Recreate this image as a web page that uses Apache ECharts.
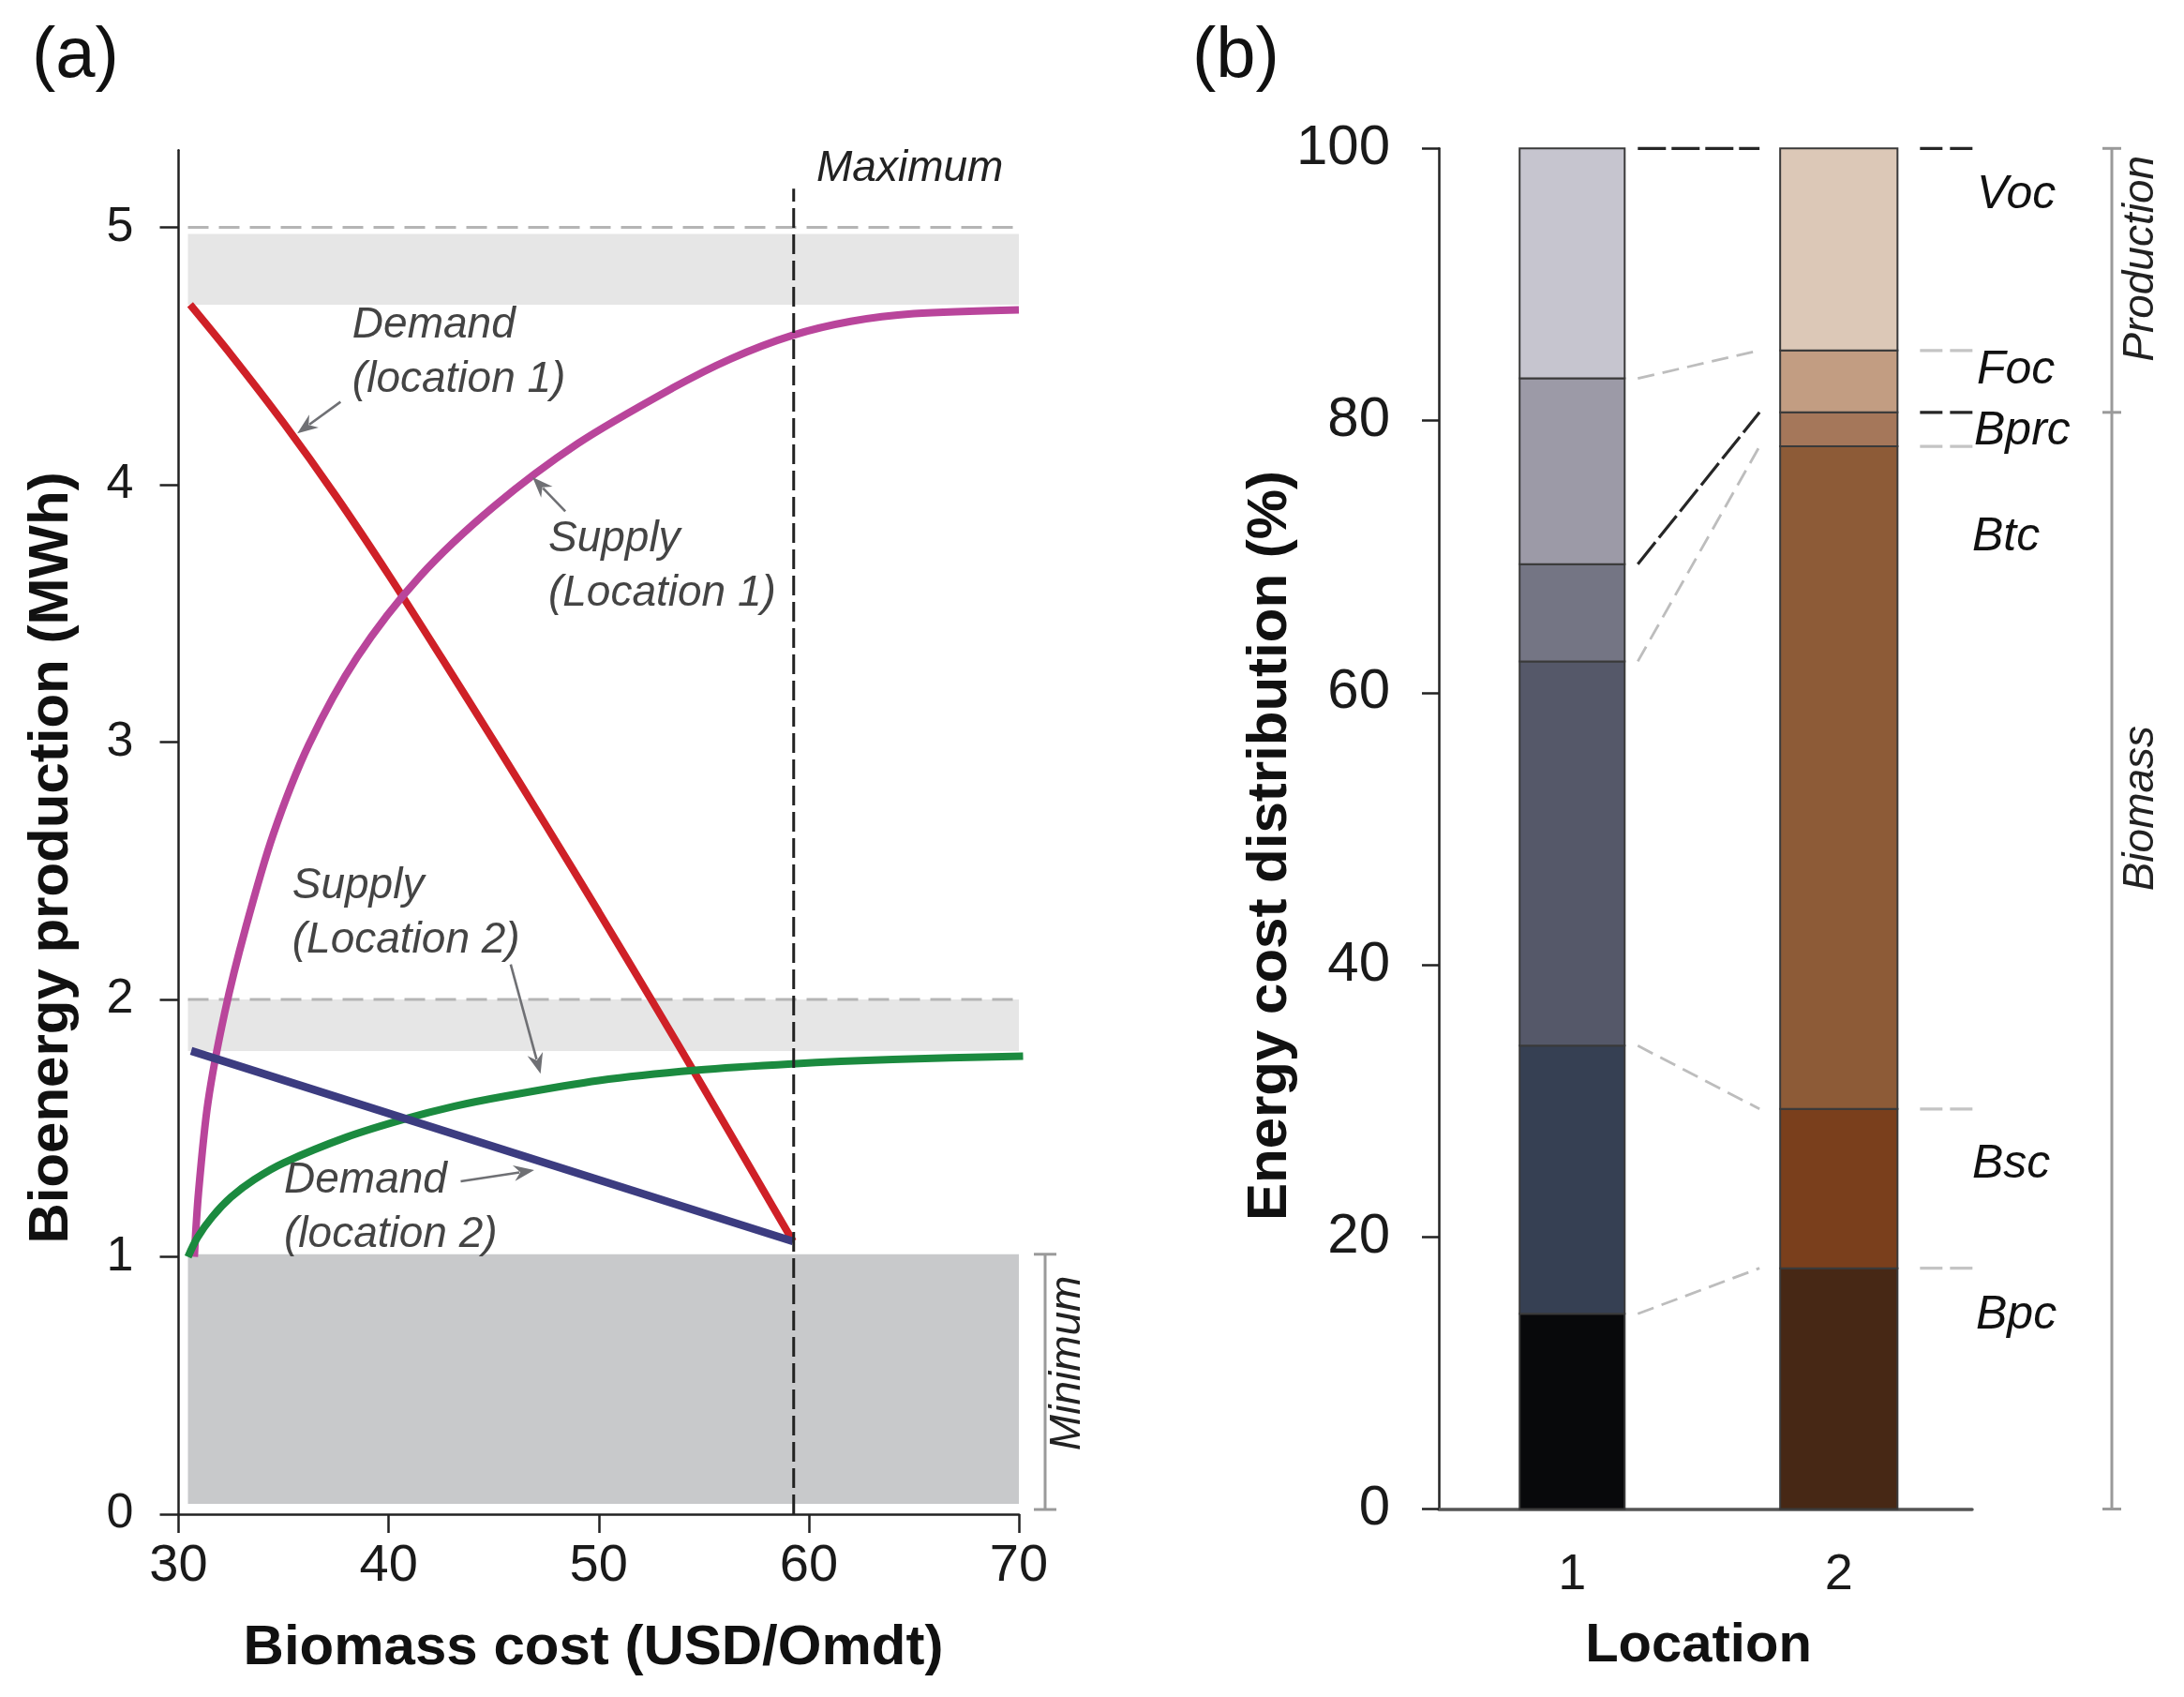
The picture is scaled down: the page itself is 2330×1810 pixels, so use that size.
<!DOCTYPE html>
<html><head><meta charset="utf-8">
<script src="https://cdn.jsdelivr.net/npm/echarts@6/dist/echarts.min.js"></script>
<style>html,body{margin:0;padding:0;background:#fff}#c{width:2330px;height:1810px}</style>
</head><body><div id="c"></div>
<script>
// ---------- DATA : panel (a) ----------
const xTicksA = [30, 40, 50, 60, 70];
const yTicksA = [0, 1, 2, 3, 4, 5];
const demandLoc1 = [[30.55,4.70],[32.5,4.505],[35,4.24],[37.5,3.955],[40,3.65],[42.5,3.33],[45,3.005],[47.5,2.675],[50,2.34],[52.5,2.0],[55,1.655],[57.5,1.305],[59.25,1.06]];
const supplyLoc1 = [[30.75,1.0],[30.95,1.25],[31.4,1.6],[32.2,1.95],[33.2,2.28],[34.5,2.64],[36.2,2.99],[38.5,3.33],[41.5,3.645],[45,3.915],[49,4.16],[53.5,4.375],[56.3,4.49],[59.2,4.58],[62,4.635],[65,4.665],[70,4.68]];
const supplyLoc2 = [[30.45,1.0],[30.9,1.075],[31.6,1.155],[32.5,1.232],[33.6,1.30],[35.0,1.365],[38.0,1.465],[40.75,1.535],[43.14,1.585],[45.4,1.622],[50,1.685],[54.6,1.725],[59.2,1.75],[64,1.767],[70.2,1.78]];
const demandLoc2 = [[30.6,1.80],[59.25,1.06]];
const capacityBands = [[4.70, 4.975], [1.80, 2.0]];
const capacityRefs = [5, 2];
const minimumBox = [0.04, 1.01];
const maxCost = 59.28;

// ---------- DATA : panel (b) ----------
const locations = ['1', '2'];
const segments = ['Bpc', 'Bsc', 'Btc', 'Bprc', 'Foc', 'Voc'];
const loc1Share = [14.35, 19.7, 28.25, 7.15, 13.65, 16.9];
const loc2Share = [17.7, 11.7, 48.7, 2.5, 4.55, 14.85];
const yTicksB = [0, 20, 40, 60, 80, 100];

// ---------- STYLE ----------
const FONT = '"Liberation Sans", Arial, Helvetica, sans-serif';
const loc1Colors = ['#08090b','#364053','#555869','#747584','#9c9aa7','#c6c5cf'];
const loc2Colors = ['#472815','#7a3f1c','#8d5b37','#a5775a','#c29d82','#dcc8b7'];
const linkDark = [false, false, false, true, false, true];
const BAR_W = [0.394, 0.44];
const VLINE_TOP = 5.15;

function cum(arr){ let a=0; return arr.map(v => (a += v)); }
const top1 = cum(loc1Share), top2 = cum(loc2Share);
function stackRows(shares, cat){ let acc=0; return shares.map((v,i)=>{const r=[cat, acc, acc+v, i]; acc+=v; return r;}); }

const chart = echarts.init(document.getElementById('c'), null, {renderer:'canvas'});

const axisTxt = {color:'#1a1a1a', fontFamily: FONT};
const option = {
  animation:false,
  backgroundColor:'#fff',
  textStyle:{fontFamily: FONT},
  grid:[
    {left:190.5, right:1243, top:160.2, bottom:195},
    {left:1535, right:226, top:158.3, bottom:200.5}
  ],
  xAxis:[
    {gridIndex:0, type:'value', min:xTicksA[0], max:xTicksA[xTicksA.length-1], interval:10,
      axisLine:{onZero:false, lineStyle:{color:'#222', width:2.5}},
      axisTick:{length:20, lineStyle:{color:'#222', width:2.5}},
      axisLabel:Object.assign({fontSize:56, margin:28}, axisTxt),
      splitLine:{show:false}},
    {gridIndex:1, type:'category', data:locations, boundaryGap:true,
      axisLine:{lineStyle:{color:'#555', width:3.5}},
      axisTick:{length:20, lineStyle:{color:'#222', width:2.5}},
      axisLabel:Object.assign({fontSize:54, margin:44}, axisTxt),
      splitLine:{show:false}}
  ],
  yAxis:[
    {gridIndex:0, type:'value', min:0, max:5.3, interval:1,
      axisLine:{show:true, onZero:false, lineStyle:{color:'#222', width:2.5}},
      axisTick:{show:true, length:20, customValues:yTicksA, lineStyle:{color:'#222', width:2.5}},
      axisLabel:Object.assign({fontSize:52, margin:48, customValues:yTicksA}, axisTxt),
      splitLine:{show:false}},
    {gridIndex:1, type:'value', min:0, max:100, interval:20,
      axisLine:{show:true, onZero:false, lineStyle:{color:'#222', width:2.5}},
      axisTick:{show:true, length:18, lineStyle:{color:'#222', width:2.5}},
      axisLabel:Object.assign({fontSize:60, margin:52}, axisTxt),
      splitLine:{show:false}}
  ],
  series:[
    // background bands (a)
    {type:'custom', xAxisIndex:0, yAxisIndex:0, z:1, silent:true,
      encode:{x:[0,2], y:[1,3]},
      data: capacityBands.map(b => [xTicksA[0], b[0], xTicksA[4], b[1], 0])
            .concat([[xTicksA[0], minimumBox[0], xTicksA[4], minimumBox[1], 1]]),
      renderItem(params, api){
        const p0 = api.coord([api.value(0), api.value(1)]);
        const p1 = api.coord([api.value(2), api.value(3)]);
        const inset = 10;
        return {type:'rect', shape:{x:p0[0]+inset, y:p1[1], width:p1[0]-p0[0]-inset, height:p0[1]-p1[1]},
          style:{fill: api.value(4) ? '#c8c9cb' : '#e6e6e6'}};
      }},
    // dashed reference levels (a)
    {type:'custom', xAxisIndex:0, yAxisIndex:0, z:2, silent:true,
      encode:{x:[0,2], y:[1,3]},
      data: capacityRefs.map(v => [xTicksA[0], v, xTicksA[4], v]),
      renderItem(params, api){
        const p0 = api.coord([api.value(0), api.value(1)]);
        const p1 = api.coord([api.value(2), api.value(3)]);
        return {type:'line', shape:{x1:p0[0]+10, y1:p0[1], x2:p1[0], y2:p1[1]},
          style:{stroke:'#b5b5b5', lineWidth:3, lineDash:[22,11]}};
      }},
    {type:'line', name:'Demand (location 1)', xAxisIndex:0, yAxisIndex:0, z:3, clip:false,
      data:demandLoc1, showSymbol:false, smooth:0.3,
      lineStyle:{color:'#cf2027', width:8}},
    {type:'line', name:'Supply (Location 1)', xAxisIndex:0, yAxisIndex:0, z:3, clip:false,
      data:supplyLoc1, showSymbol:false, smooth:0.3,
      lineStyle:{color:'#b9459b', width:8}},
    {type:'line', name:'Supply (Location 2)', xAxisIndex:0, yAxisIndex:0, z:3, clip:false,
      data:supplyLoc2, showSymbol:false, smooth:0.3,
      lineStyle:{color:'#1b8a3f', width:8}},
    {type:'line', name:'Demand (location 2)', xAxisIndex:0, yAxisIndex:0, z:3, clip:false,
      data:demandLoc2, showSymbol:false,
      lineStyle:{color:'#3c3c80', width:8.5}},
    // vertical maximum line + minimum bracket (a)
    {type:'custom', xAxisIndex:0, yAxisIndex:0, z:5, silent:true, clip:false,
      encode:{x:0, y:[1,2]},
      data:[[maxCost, 0, VLINE_TOP, 0], [xTicksA[4], minimumBox[0], minimumBox[1], 1]],
      renderItem(params, api){
        const a = api.coord([api.value(0), api.value(1)]);
        const b = api.coord([api.value(0), api.value(2)]);
        if (!api.value(3)) {
          return {type:'line', shape:{x1:a[0], y1:a[1], x2:b[0], y2:b[1]},
            style:{stroke:'#222', lineWidth:3, lineDash:[21,7]}};
        }
        const x = a[0] + 28, c = '#9a9a9a';
        return {type:'group', children:[
          {type:'line', shape:{x1:x, y1:a[1]+6, x2:x, y2:b[1]}, style:{stroke:c, lineWidth:3}},
          {type:'line', shape:{x1:x-12, y1:a[1]+6, x2:x+12, y2:a[1]+6}, style:{stroke:c, lineWidth:3}},
          {type:'line', shape:{x1:x-12, y1:b[1], x2:x+12, y2:b[1]}, style:{stroke:c, lineWidth:3}}
        ]};
      }},
    // stacked bars (b)
    {type:'custom', xAxisIndex:1, yAxisIndex:1, z:2, silent:true,
      encode:{x:0, y:[1,2]},
      data: stackRows(loc1Share, 0).concat(stackRows(loc2Share, 1)),
      renderItem(params, api){
        const cat = api.value(0), seg = api.value(3);
        const p0 = api.coord([cat, api.value(1)]);
        const p1 = api.coord([cat, api.value(2)]);
        const w = api.size([1, 0])[0] * BAR_W[cat];
        return {type:'rect', shape:{x:p0[0]-w/2, y:p1[1], width:w, height:p0[1]-p1[1]},
          style:{fill:(cat ? loc2Colors : loc1Colors)[seg], stroke:'#3a3a3a', lineWidth:2}};
      }},
    // connectors between bars (b)
    {type:'custom', xAxisIndex:1, yAxisIndex:1, z:3, silent:true, clip:false,
      encode:{x:0, y:[1,2]},
      data: segments.map((s,i) => [0, top1[i], top2[i], i]),
      renderItem(params, api){
        const seg = api.value(3);
        const a = api.coord([0, api.value(1)]);
        const b = api.coord([1, api.value(2)]);
        const band = api.size([1, 0])[0];
        const r1 = a[0] + band*BAR_W[0]/2 + 14;
        const l2 = b[0] - band*BAR_W[1]/2 - 22;
        const r2 = b[0] + band*BAR_W[1]/2 + 24;
        const dark = linkDark[seg];
        const st = dark ? {stroke:'#262626', lineWidth:3.2, lineDash:[30,6]}
                        : {stroke:'#bdbdbd', lineWidth:2.8, lineDash:[18,9]};
        const st2 = dark ? {stroke:'#262626', lineWidth:3.2, lineDash:[24,8]}
                         : {stroke:'#c4c4c4', lineWidth:3.2, lineDash:[24,8]};
        return {type:'group', children:[
          {type:'line', shape:{x1:r1, y1:a[1], x2:l2, y2:b[1]}, style:st},
          {type:'line', shape:{x1:r2, y1:b[1], x2:r2+58, y2:b[1]}, style:st2}
        ]};
      }},
    // production / biomass bracket (b)
    {type:'custom', xAxisIndex:1, yAxisIndex:1, z:3, silent:true, clip:false,
      encode:{x:0, y:[1,3]},
      data:[[1, 0, top2[3], top2[5]]],
      renderItem(params, api){
        const band = api.size([1, 0])[0];
        const c0 = api.coord([1, api.value(1)]);
        const cm = api.coord([1, api.value(2)]);
        const ct = api.coord([1, api.value(3)]);
        const x = c0[0] + band/2 + 149, col = '#9a9a9a';
        const cap = y => ({type:'line', shape:{x1:x-10, y1:y, x2:x+10, y2:y}, style:{stroke:col, lineWidth:3}});
        return {type:'group', children:[
          {type:'line', shape:{x1:x, y1:c0[1], x2:x, y2:ct[1]}, style:{stroke:col, lineWidth:3}},
          cap(c0[1]), cap(cm[1]), cap(ct[1])
        ]};
      }}
  ]
};
chart.setOption(option);

// ---------- annotations ----------
const A = (x, y) => chart.convertToPixel({gridIndex:0}, [x, y]);
const BY = v => chart.convertToPixel({yAxisIndex:1}, v);
const g = [];
function txt(x, y, text, o){
  g.push({type:'text', x, y, rotation:(o && o.rot) || 0, z:100, style:Object.assign({
    text, fontFamily:FONT, fontSize:46, fontStyle:'italic', fill:'#444',
    align:'left', verticalAlign:'middle', lineHeight:58}, o || {})});
}
function arrow(p, q, color){
  const dx=q[0]-p[0], dy=q[1]-p[1], L=Math.hypot(dx,dy), ux=dx/L, uy=dy/L;
  const hl=22, hw=8.5, bx=q[0]-ux*hl, by=q[1]-uy*hl;
  g.push({type:'line', z:100, shape:{x1:p[0], y1:p[1], x2:bx+ux*6, y2:by+uy*6}, style:{stroke:color, lineWidth:2.6}});
  g.push({type:'polygon', z:100, shape:{points:[[q[0],q[1]],[bx-uy*hw,by+ux*hw],[bx+ux*7,by+uy*7],[bx+uy*hw,by-ux*hw]]}, style:{fill:color}});
}
// panel labels
txt(34, 61, '(a)', {fontSize:76, fontStyle:'normal', fill:'#111'});
txt(1272, 61, '(b)', {fontSize:76, fontStyle:'normal', fill:'#111'});
// axis titles
txt(633, 1758, 'Biomass cost (USD/Omdt)', {fontSize:60, fontStyle:'normal', fontWeight:'bold', fill:'#111', align:'center'});
txt(55, 915, 'Bioenergy production (MWh)', {fontSize:60, fontStyle:'normal', fontWeight:'bold', fill:'#111', align:'center', rot:Math.PI/2});
txt(1812, 1756, 'Location', {fontSize:58, fontStyle:'normal', fontWeight:'bold', fill:'#111', align:'center'});
txt(1355, 902, 'Energy cost distribution (%)', {fontSize:60, fontStyle:'normal', fontWeight:'bold', fill:'#111', align:'center', rot:Math.PI/2});
// panel (a) annotations
let p;
p = A(38.27, 4.514); txt(p[0], p[1], 'Demand\n(location 1)');
p = A(47.6, 3.681); txt(p[0], p[1], 'Supply\n(Location 1)');
p = A(35.41, 2.335); txt(p[0], p[1], 'Supply\n(Location 2)');
p = A(35.02, 1.191); txt(p[0], p[1], 'Demand\n(location 2)');
p = A(64.81, 5.228); txt(p[0], p[1], 'Maximum', {align:'center', fill:'#222'});
p = A(72.35, 0.587); txt(p[0], p[1], 'Minimum', {align:'center', fill:'#222', rot:Math.PI/2});
arrow(A(37.71, 4.322), A(35.65, 4.20), '#6f7074');
arrow(A(48.41, 3.897), A(46.85, 4.029), '#6f7074');
arrow(A(45.81, 2.136), A(47.23, 1.711), '#6f7074');
arrow(A(43.43, 1.293), A(46.93, 1.337), '#6f7074');
// panel (b) annotations
const segLabelY = {Voc:96.6, Foc:83.7, Bprc:79.2, Btc:71.4, Bsc:25.3, Bpc:14.2};
const segLabelX = {Voc:2109, Foc:2109, Bprc:2106, Btc:2104, Bsc:2104, Bpc:2108};
segments.forEach(s => txt(segLabelX[s], BY(segLabelY[s]), s, {fontSize:50, fill:'#111'}));
txt(2284, BY(91.9), 'Production', {align:'center', fill:'#222', rot:Math.PI/2});
txt(2284, BY(51.5), 'Biomass', {align:'center', fill:'#222', rot:Math.PI/2});
chart.setOption({graphic:{elements:g}});
</script>
</body></html>
